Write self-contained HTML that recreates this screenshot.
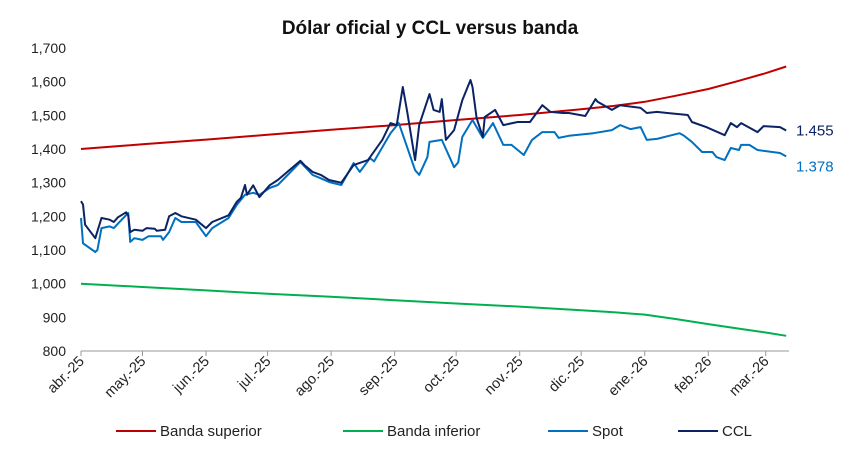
<!DOCTYPE html>
<html><head><meta charset="utf-8"><style>
body{margin:0;background:#fff;font-family:"Liberation Sans",sans-serif}
svg{display:block}
</style></head><body>
<svg id="c" width="858" height="449">
<text x="430" y="34" text-anchor="middle" font-size="19" font-weight="bold" fill="#111">Dólar oficial y CCL versus banda</text>
</svg>
<script>
const yTicks=[800,900,1000,1100,1200,1300,1400,1500,1600,1700];
const yTickLabels=["800","900","1,000","1,100","1,200","1,300","1,400","1,500","1,600","1,700"];
const monthLabels=["abr.-25","may.-25","jun.-25","jul.-25","ago.-25","sep.-25","oct.-25","nov.-25","dic.-25","ene.-26","feb.-26","mar.-26"];
const monthDays=[0,30,61,91,122,153,183,214,244,275,306,334];
const bandDays=[0,30,61,91,122,153,183,214,244,260,275,290,306,320,334,344];
const bandUpper=[1400,1414,1428,1442,1457,1471,1486,1501,1518,1528,1540,1558,1578,1601,1625,1645];
const bandLower=[1000,990,980,970,961,951,941,932,921,915,908,895,880,867,855,845];
const cclDays=[0,1,2,7,10,14,16,18,22,23,24,26,30,32,36,37,41,43,46,49,56,61,64,72,76,78,80,81,84,87,92,96,107,109,113,117,121,127,133,140,147,151,154,157,159,163,165,170,172,175,176,178,182,186,190,191,193,196,197,202,206,213,219,225,229,235,238,246,251,252,259,263,273,276,281,286,296,298,305,314,317,320,322,330,333,341,344];
const cclValues=[1245,1235,1175,1135,1195,1190,1183,1197,1212,1203,1153,1160,1157,1165,1163,1157,1160,1200,1210,1200,1190,1165,1183,1203,1243,1255,1293,1264,1292,1257,1292,1308,1365,1352,1332,1323,1308,1300,1352,1367,1427,1477,1471,1584,1516,1367,1471,1563,1516,1510,1548,1427,1456,1545,1605,1584,1492,1436,1495,1516,1471,1480,1480,1530,1510,1507,1507,1498,1548,1540,1516,1530,1522,1507,1510,1507,1501,1480,1465,1441,1477,1465,1477,1450,1468,1465,1455];
const spotDays=[0,1,7,8,10,14,16,18,23,24,26,30,33,39,40,43,46,49,56,61,64,72,76,80,84,87,92,96,107,113,117,121,127,133,136,141,143,151,155,163,165,169,170,176,182,184,186,191,196,201,206,210,216,220,225,231,233,238,250,259,263,268,273,276,281,292,294,298,303,308,310,314,317,321,322,326,330,341,344];
const spotValues=[1195,1120,1094,1100,1165,1170,1165,1178,1210,1124,1135,1130,1141,1141,1130,1153,1195,1183,1183,1141,1165,1195,1234,1264,1270,1264,1284,1293,1361,1323,1313,1302,1293,1358,1332,1373,1363,1447,1477,1337,1323,1376,1421,1427,1346,1360,1436,1486,1433,1477,1412,1412,1382,1427,1450,1450,1433,1439,1447,1456,1471,1459,1465,1427,1430,1447,1440,1421,1391,1391,1376,1367,1403,1397,1412,1412,1397,1388,1378];
const NS="http://www.w3.org/2000/svg";
const svg=document.getElementById('c');
const X=d=>81+d*2.05;
const Y=v=>351-(v-800)*0.3367;
function mk(t,a){const e=document.createElementNS(NS,t);for(const k in a)e.setAttribute(k,a[k]);svg.appendChild(e);return e;}
yTicks.forEach((v,i)=>{const t=mk('text',{x:66,y:Y(v)+5,'text-anchor':'end','font-size':14,fill:'#222'});t.textContent=yTickLabels[i];

});
const ax=mk('line',{x1:81,x2:789,y1:351,y2:351,stroke:'#999','stroke-width':1});


monthDays.forEach((d,i)=>{const tk=mk('line',{x1:X(d),x2:X(d),y1:351,y2:356,stroke:'#999'});


const t=mk('text',{x:X(d)+4,y:362,'text-anchor':'end','font-size':14.5,fill:'#222',transform:`rotate(-45 ${X(d)+4} 362)`});t.textContent=monthLabels[i];

});
function line(ds,vs,col,w,name){const p=mk('polyline',{points:ds.map((d,i)=>X(d).toFixed(1)+','+Y(vs[i]).toFixed(1)).join(' '),fill:'none',stroke:col,'stroke-width':w,'stroke-linejoin':'round'});

}
line(bandDays,bandUpper,'#c00000',2,'banda-superior-line');
line(bandDays,bandLower,'#00b050',2,'banda-inferior-line');
line(spotDays,spotValues,'#0070c0',2,'spot-line');
line(cclDays,cclValues,'#0b2265',2,'ccl-line');
const l1=mk('text',{x:796,y:Y(cclValues[cclValues.length-1])+5,'font-size':15,fill:'#0b2265'});l1.textContent='1.455';


const l2=mk('text',{x:796,y:Y(spotValues[spotValues.length-1])+15,'font-size':15,fill:'#0070c0'});l2.textContent='1.378';


const leg=[['Banda superior','#c00000',116],['Banda inferior','#00b050',343],['Spot','#0070c0',548],['CCL','#0b2265',678]];
leg.forEach(([n,c,x])=>{const s=mk('line',{x1:x,x2:x+40,y1:431,y2:431,stroke:c,'stroke-width':2});


const t=mk('text',{x:x+44,y:436,'font-size':15,fill:'#222'});t.textContent=n;

});
</script>
</body></html>
